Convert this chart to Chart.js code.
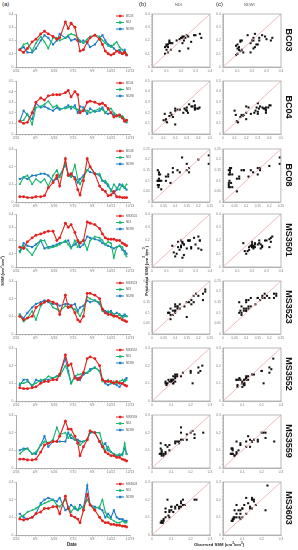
<!DOCTYPE html>
<html>
<head>
<meta charset="utf-8">
<script src="https://cdn.jsdelivr.net/npm/chart.js@4.4.0/dist/chart.umd.min.js"></script>
<style>
body{margin:0;background:#fff;width:298px;height:550px;position:relative;overflow:hidden;font-family:"Liberation Sans",Arial,sans-serif;}
canvas{position:absolute;}
.t{position:absolute;color:#222;white-space:nowrap;line-height:1;}
.st{position:absolute;writing-mode:vertical-rl;font-weight:bold;font-size:9px;color:#111;line-height:1;transform:translateY(-50%);}
</style>
</head>
<body>
<script>
// sampling dates, in axis units (one unit = one labelled tick)
var dates = [0.2,0.4,0.6,0.85,1.05,1.3,1.5,1.7,1.95,2.15,2.3,2.6,2.75,2.9,3.1,3.25,3.37,3.55,3.75,3.9,4.15,4.4,4.55,4.7,4.85,5.0,5.15,5.3,5.45,5.6,5.72,5.82];
var dateLabels = ['2/26','4/9','5/26','7/15','9/3','10/21','12/13'];
var stations = ['BC03','BC04','BC08','MS3501','MS3523','MS3552','MS3559','MS3603'];

var obsBC03 = [0.13,0.11,0.14,0.19,0.21,0.25,0.27,0.25,0.23,0.21,0.22,0.34,0.29,0.33,0.3,0.2,0.12,0.13,0.19,0.22,0.24,0.21,0.17,0.12,0.1,0.09,0.1,0.12,0.11,0.1,0.11,0.09];
var ndiBC03 = [0.13,0.17,0.18,0.12,0.18,0.23,0.19,0.14,0.22,0.22,0.2,0.22,0.24,0.25,0.24,0.22,0.2,0.18,0.21,0.23,0.24,0.23,0.2,0.18,0.16,0.15,0.17,0.19,0.15,0.13,0.11,0.1];
var ndwiBC03 = [0.13,0.15,0.11,0.11,0.14,0.2,0.24,0.22,0.17,0.2,0.25,0.22,0.23,0.2,0.21,0.2,0.19,0.2,0.18,0.15,0.17,0.22,0.24,0.2,0.17,0.16,0.14,0.12,0.13,0.1,0.13,0.09];

var obsBC04 = [0.12,0.1,0.11,0.2,0.3,0.34,0.32,0.36,0.37,0.37,0.37,0.39,0.41,0.35,0.4,0.37,0.2,0.22,0.3,0.31,0.3,0.28,0.29,0.27,0.24,0.2,0.16,0.17,0.18,0.15,0.12,0.13];
var ndiBC04 = [0.12,0.13,0.19,0.09,0.25,0.26,0.28,0.31,0.25,0.27,0.24,0.24,0.25,0.26,0.24,0.23,0.22,0.23,0.22,0.2,0.22,0.24,0.23,0.2,0.23,0.24,0.2,0.18,0.16,0.17,0.14,0.11];
var ndwiBC04 = [0.12,0.22,0.18,0.14,0.29,0.25,0.26,0.24,0.22,0.25,0.23,0.25,0.27,0.24,0.27,0.2,0.26,0.25,0.19,0.24,0.21,0.22,0.25,0.2,0.19,0.2,0.18,0.17,0.18,0.16,0.12,0.11];

var obsBC08 = [0.03,0.03,0.025,0.025,0.03,0.03,0.035,0.08,0.11,0.15,0.09,0.245,0.15,0.16,0.13,0.07,0.04,0.12,0.245,0.2,0.16,0.09,0.07,0.06,0.035,0.04,0.06,0.03,0.028,0.025,0.025,0.025];
var ndiBC08 = [0.1,0.14,0.15,0.1,0.13,0.11,0.13,0.09,0.15,0.18,0.14,0.22,0.15,0.14,0.21,0.13,0.1,0.14,0.18,0.2,0.16,0.16,0.12,0.12,0.1,0.06,0.1,0.08,0.07,0.1,0.08,0.1];
var ndwiBC08 = [0.13,0.14,0.13,0.15,0.15,0.16,0.16,0.15,0.12,0.13,0.15,0.21,0.16,0.15,0.14,0.11,0.13,0.15,0.18,0.17,0.16,0.15,0.12,0.11,0.09,0.07,0.05,0.07,0.1,0.09,0.08,0.07];

var obsMS3501 = [0.15,0.14,0.19,0.22,0.24,0.25,0.26,0.27,0.27,0.2,0.22,0.33,0.3,0.32,0.26,0.2,0.18,0.2,0.34,0.33,0.32,0.29,0.25,0.22,0.21,0.21,0.21,0.2,0.2,0.18,0.17,0.16];
var ndiMS3501 = [0.11,0.16,0.13,0.09,0.14,0.2,0.2,0.14,0.15,0.16,0.17,0.2,0.17,0.14,0.2,0.15,0.19,0.2,0.13,0.2,0.23,0.22,0.2,0.17,0.19,0.18,0.07,0.15,0.16,0.15,0.1,0.08];
var ndwiMS3501 = [0.12,0.18,0.16,0.15,0.17,0.2,0.14,0.15,0.16,0.17,0.18,0.19,0.2,0.15,0.17,0.19,0.15,0.17,0.23,0.22,0.21,0.2,0.18,0.17,0.16,0.15,0.14,0.15,0.16,0.13,0.12,0.1];

var obsMS3523 = [0.1,0.08,0.09,0.1,0.15,0.17,0.18,0.19,0.18,0.17,0.11,0.22,0.15,0.16,0.12,0.08,0.07,0.1,0.23,0.23,0.22,0.2,0.14,0.12,0.11,0.11,0.1,0.1,0.09,0.08,0.075,0.07];
var ndiMS3523 = [0.11,0.07,0.09,0.13,0.08,0.16,0.18,0.19,0.15,0.14,0.13,0.16,0.15,0.15,0.14,0.12,0.1,0.14,0.21,0.2,0.19,0.18,0.13,0.12,0.13,0.12,0.11,0.1,0.11,0.09,0.1,0.1];
var ndwiMS3523 = [0.11,0.09,0.12,0.15,0.17,0.18,0.19,0.18,0.17,0.17,0.16,0.17,0.17,0.16,0.17,0.13,0.15,0.16,0.19,0.18,0.19,0.17,0.14,0.13,0.12,0.13,0.11,0.12,0.11,0.1,0.11,0.1];

var obsMS3552 = [0.075,0.07,0.07,0.075,0.08,0.1,0.11,0.11,0.12,0.12,0.15,0.26,0.2,0.21,0.13,0.12,0.13,0.16,0.24,0.25,0.24,0.2,0.12,0.11,0.11,0.11,0.1,0.11,0.1,0.1,0.09,0.085];
var ndiMS3552 = [0.1,0.1,0.11,0.09,0.1,0.12,0.12,0.14,0.13,0.14,0.14,0.2,0.16,0.1,0.14,0.15,0.15,0.16,0.16,0.17,0.19,0.17,0.11,0.11,0.12,0.1,0.11,0.1,0.11,0.12,0.11,0.12];
var ndwiMS3552 = [0.09,0.12,0.12,0.08,0.12,0.11,0.12,0.12,0.13,0.14,0.15,0.24,0.17,0.1,0.14,0.13,0.12,0.15,0.16,0.18,0.19,0.17,0.12,0.1,0.09,0.1,0.1,0.09,0.08,0.1,0.12,0.13];

var obsMS3559 = [0.05,0.05,0.045,0.045,0.05,0.09,0.13,0.14,0.15,0.15,0.18,0.265,0.22,0.22,0.18,0.14,0.07,0.12,0.16,0.21,0.2,0.15,0.12,0.09,0.08,0.07,0.07,0.06,0.06,0.05,0.045,0.04];
var ndiMS3559 = [0.08,0.1,0.11,0.08,0.09,0.13,0.15,0.14,0.16,0.23,0.19,0.2,0.17,0.19,0.16,0.15,0.13,0.15,0.16,0.21,0.2,0.2,0.14,0.1,0.12,0.09,0.08,0.07,0.08,0.07,0.14,0.08];
var ndwiMS3559 = [0.1,0.11,0.11,0.08,0.08,0.13,0.18,0.12,0.15,0.15,0.15,0.15,0.2,0.17,0.16,0.16,0.15,0.15,0.16,0.2,0.2,0.15,0.12,0.14,0.1,0.09,0.08,0.07,0.07,0.08,0.11,0.08];

var obsMS3603 = [0.09,0.085,0.09,0.1,0.12,0.13,0.15,0.15,0.16,0.16,0.12,0.22,0.15,0.11,0.1,0.09,0.07,0.14,0.23,0.17,0.14,0.1,0.08,0.07,0.07,0.06,0.06,0.055,0.055,0.05,0.05,0.045];
var ndiMS3603 = [0.1,0.11,0.13,0.14,0.15,0.17,0.18,0.19,0.2,0.17,0.16,0.2,0.16,0.13,0.16,0.14,0.15,0.16,0.2,0.17,0.15,0.16,0.2,0.13,0.1,0.09,0.08,0.07,0.07,0.08,0.07,0.07];
var ndwiMS3603 = [0.12,0.1,0.09,0.1,0.12,0.18,0.2,0.21,0.2,0.19,0.21,0.14,0.15,0.17,0.15,0.14,0.17,0.15,0.28,0.17,0.16,0.15,0.14,0.1,0.12,0.1,0.14,0.1,0.09,0.09,0.08,0.08];

var obsAll = [obsBC03,obsBC04,obsBC08,obsMS3501,obsMS3523,obsMS3552,obsMS3559,obsMS3603];
var ndiAll = [ndiBC03,ndiBC04,ndiBC08,ndiMS3501,ndiMS3523,ndiMS3552,ndiMS3559,ndiMS3603];
var ndwiAll = [ndwiBC03,ndwiBC04,ndwiBC08,ndwiMS3501,ndwiMS3523,ndwiMS3552,ndwiMS3559,ndwiMS3603];

// axis limits
var lineMax = [0.4,0.5,0.3,0.4,0.3,0.3,0.3,0.3];
var scatMax = [0.4,0.5,0.25,0.4,0.25,0.3,0.3,0.3];
var scatStep = [0.1,0.1,0.05,0.1,0.05,0.1,0.1,0.1];

var rowTop = [13,80,148,213,280,347,414,481];
var RED = '#e3211e', GREEN = '#14b56c', BLUE = '#1b7cc4';

Chart.defaults.font.family = '"Liberation Sans", Arial, sans-serif';
Chart.defaults.color = '#777';

function addCanvas(left, top, w, h) {
    var c = document.createElement('canvas');
    c.width = w; c.height = h;
    c.style.left = left + 'px'; c.style.top = top + 'px';
    c.style.width = w + 'px'; c.style.height = h + 'px';
    document.body.appendChild(c);
    return c;
}

function addText(txt, css, cls) {
    var d = document.createElement('div');
    d.className = cls || 't';
    d.innerHTML = txt;
    d.style.cssText += css;
    document.body.appendChild(d);
}

function tickList(max, step) {
    var t = [];
    var n = Math.round(max / step);
    for (var i = 0; i <= n; i++) t.push({ value: +(i * step).toFixed(5) });
    return t;
}

function isMajor(v, major) {
    var r = v / major;
    return Math.abs(r - Math.round(r)) < 1e-6;
}

function fmt(v) {
    return String(+v.toFixed(3));
}

// small legend inside top right of each time series panel
var miniLegend = {
    id: 'miniLegend',
    afterDraw: function(chart) {
        var ctx = chart.ctx, a = chart.chartArea;
        var x0 = a.right - 14, y0 = a.top + 2;
        ctx.save();
        ctx.font = '3px "Liberation Sans", Arial';
        ctx.textBaseline = 'middle';
        chart.data.datasets.forEach(function(ds, i) {
            var y = y0 + i * 6.5;
            ctx.strokeStyle = ds.borderColor;
            ctx.lineWidth = 1;
            ctx.beginPath(); ctx.moveTo(x0, y); ctx.lineTo(x0 + 8, y); ctx.stroke();
            ctx.fillStyle = ds.borderColor;
            ctx.fillRect(x0 + 3, y - 1.2, 2.4, 2.4);
            ctx.fillStyle = '#555';
            ctx.fillText(ds.label, x0 + 10, y);
        });
        ctx.restore();
    }
};

var boxBorder = {
    id: 'boxBorder',
    afterDraw: function(chart) {
        var ctx = chart.ctx, a = chart.chartArea;
        ctx.save();
        ctx.strokeStyle = '#a8a8a8';
        ctx.lineWidth = 0.8;
        ctx.strokeRect(a.left, a.top, a.right - a.left, a.bottom - a.top);
        ctx.restore();
    }
};

function series(label, ys, color, style) {
    return {
        label: label,
        data: dates.map(function(d, i) { return { x: d, y: ys[i] }; }),
        borderColor: color,
        backgroundColor: color,
        borderWidth: 1.1,
        pointStyle: style,
        pointRadius: 1.45,
        pointBorderWidth: 0,
        tension: 0
    };
}

function lineChart(k) {
    var cv = addCanvas(0, rowTop[k] - 3, 142, 67);
    new Chart(cv, {
        type: 'line',
        data: {
            datasets: [
                series(stations[k], obsAll[k], RED, 'circle'),
                series('NDI', ndiAll[k], GREEN, 'triangle'),
                series('NDWI', ndwiAll[k], BLUE, 'rect')
            ]
        },
        options: {
            responsive: false,
            animation: false,
            events: [],
            layout: { padding: { top: 3, right: 12, left: 0, bottom: 0 } },
            plugins: { legend: { display: false }, tooltip: { enabled: false } },
            scales: {
                x: {
                    type: 'linear', min: 0, max: 6,
                    afterBuildTicks: function(s) { s.ticks = tickList(6, 1 / 6); },
                    afterFit: function(s) { s.height = 10; },
                    grid: { drawOnChartArea: false, tickLength: 1.5, color: '#999', lineWidth: 0.6 },
                    border: { color: '#999', width: 0.8 },
                    ticks: {
                        autoSkip: false, maxRotation: 0, padding: 1,
                        font: { size: 3.4 },
                        callback: function(v) { return isMajor(v, 1) ? dateLabels[Math.round(v)] : ''; }
                    }
                },
                y: {
                    min: 0, max: lineMax[k],
                    afterBuildTicks: function(s) { s.ticks = tickList(lineMax[k], 0.1); },
                    afterFit: function(s) { s.width = 16; },
                    grid: { drawOnChartArea: false, tickLength: 1.5, color: '#999', lineWidth: 0.6 },
                    border: { color: '#999', width: 0.8 },
                    ticks: { padding: 1, font: { size: 3.4 }, callback: function(v) { return fmt(v); } }
                }
            }
        },
        plugins: [miniLegend]
    });
}

function scatterChart(k, col) {
    var pred = col === 0 ? ndiAll[k] : ndwiAll[k];
    var obs = obsAll[k];
    var m = scatMax[k];
    var left = col === 0 ? 138 : 209;
    var cv = addCanvas(left, rowTop[k] - 3, 76, 67);
    new Chart(cv, {
        type: 'scatter',
        data: {
            datasets: [
                {
                    type: 'line',
                    data: [{ x: 0, y: 0 }, { x: m, y: m }],
                    borderColor: '#eaa9a9', borderWidth: 0.8, pointRadius: 0
                },
                {
                    data: obs.map(function(o, i) { return { x: o, y: pred[i] }; }),
                    backgroundColor: '#111', pointStyle: 'rect', pointRadius: 1.45, pointBorderWidth: 0
                }
            ]
        },
        options: {
            responsive: false,
            animation: false,
            events: [],
            layout: { padding: { top: 3, right: 4, left: 0, bottom: 0 } },
            plugins: { legend: { display: false }, tooltip: { enabled: false } },
            scales: {
                x: {
                    type: 'linear', min: 0, max: m,
                    afterBuildTicks: function(s) { s.ticks = tickList(m, scatStep[k] / 5); },
                    afterFit: function(s) { s.height = 10; },
                    grid: { drawOnChartArea: false, tickLength: 1.2, color: '#aaa', lineWidth: 0.5 },
                    border: { color: '#aaa', width: 0.8 },
                    ticks: {
                        autoSkip: false, maxRotation: 0, padding: 1, font: { size: 3.2 },
                        callback: function(v) { return isMajor(v, scatStep[k]) ? fmt(v) : ''; }
                    }
                },
                y: {
                    min: 0, max: m,
                    afterBuildTicks: function(s) { s.ticks = tickList(m, scatStep[k] / 5); },
                    afterFit: function(s) { s.width = 14; },
                    grid: { drawOnChartArea: false, tickLength: 1.2, color: '#aaa', lineWidth: 0.5 },
                    border: { color: '#aaa', width: 0.8 },
                    ticks: {
                        autoSkip: false, padding: 1, font: { size: 3.2 },
                        callback: function(v) { return isMajor(v, scatStep[k]) ? fmt(v) : ''; }
                    }
                }
            }
        },
        plugins: [boxBorder]
    });
}

for (var k = 0; k < stations.length; k++) {
    lineChart(k);
    scatterChart(k, 0);
    scatterChart(k, 1);
    addText(stations[k], 'left:284px;top:' + (rowTop[k] + 27) + 'px;', 'st');
}

addText('(a)', 'left:2px;top:1px;font-size:6px;');
addText('(b)', 'left:139px;top:1px;font-size:6px;');
addText('(c)', 'left:216px;top:1px;font-size:6px;');
addText('NDI', 'left:175px;top:3px;font-size:4px;color:#555;');
addText('NDWI', 'left:244px;top:3px;font-size:4px;color:#555;');
addText('SSM (cm<sup style="font-size:3px">3</sup>/cm<sup style="font-size:3px">3</sup>)',
    'left:-12px;top:268px;font-size:4.2px;font-weight:bold;transform:rotate(-90deg);');
addText('Predicted SSM (cm<sup style="font-size:3px">3</sup>/cm<sup style="font-size:3px">3</sup>)',
    'left:121px;top:268px;font-size:4.2px;font-weight:bold;transform:rotate(-90deg);');
addText('Date', 'left:67px;top:543px;font-size:4.5px;font-weight:bold;');
addText('Observed SSM (cm<sup style="font-size:3px">3</sup>/cm<sup style="font-size:3px">3</sup>)',
    'left:194px;top:542px;font-size:4.2px;font-weight:bold;');
</script>
</body>
</html>
